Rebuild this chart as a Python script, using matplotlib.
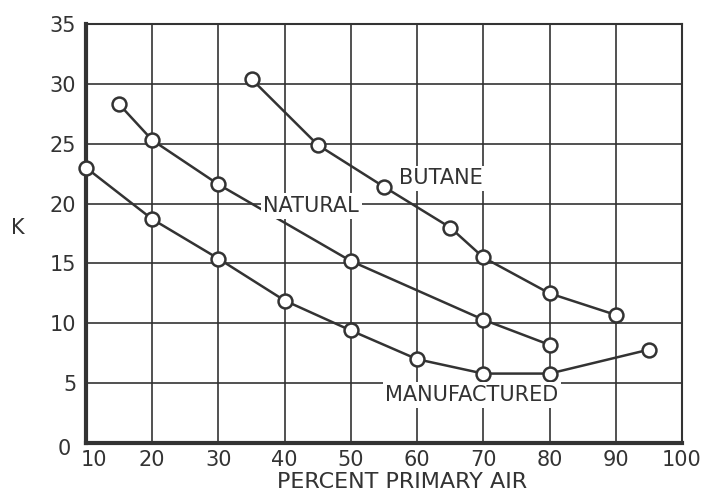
import matplotlib.pyplot as plt
from matplotlib.transforms import ScaledTranslation

plt.rcParams['font.family'] = ['DejaVu Sans']

# data
manuf_x = [10, 20, 30, 40, 50, 60, 70, 80, 95]
manuf_k = [23.0, 18.7, 15.4, 11.9, 9.4, 7.0, 5.8, 5.8, 7.8]

natural_x = [15, 20, 30, 50, 70, 80]
natural_k = [28.3, 25.3, 21.6, 15.2, 10.3, 8.2]

butane_x = [35, 45, 55, 65, 70, 80, 90]
butane_k = [30.4, 24.9, 21.4, 18.0, 15.5, 12.5, 10.7]

xticks = [10, 20, 30, 40, 50, 60, 70, 80, 90, 100]
yticks = [0, 5, 10, 15, 20, 25, 30, 35]

ink = '#333333'

fig = plt.figure(figsize=(7.19, 4.94), dpi=100)
ax = fig.add_axes([0.1196, 0.1032, 0.829, 0.8482])

ax.set_xlim(10, 100)
ax.set_ylim(0, 35)
ax.set_xticks(xticks)
ax.set_yticks(yticks)
ax.grid(True, color=ink, linewidth=1.2)
ax.set_axisbelow(True)
ax.tick_params(length=0, labelsize=15, colors=ink, pad=5)
ax.tick_params(axis='y', pad=7)

# nudge the corner labels apart like the original
ax.get_xticklabels()[0].set_transform(
    ax.get_xticklabels()[0].get_transform() + ScaledTranslation(6/72, 0, fig.dpi_scale_trans))
ax.get_yticklabels()[0].set_transform(
    ax.get_yticklabels()[0].get_transform() + ScaledTranslation(-4/72, -3/72, fig.dpi_scale_trans))

for s in ['left', 'bottom']:
    ax.spines[s].set_linewidth(3)
for s in ['top', 'right']:
    ax.spines[s].set_linewidth(1.5)
for s in ax.spines.values():
    s.set_color(ink)

style = dict(color=ink, linewidth=1.8, marker='o', markersize=10,
             markerfacecolor='white', markeredgecolor=ink,
             markeredgewidth=1.8, clip_on=False, zorder=3)
ax.plot(manuf_x, manuf_k, **style)
ax.plot(natural_x, natural_k, **style)
ax.plot(butane_x, butane_k, **style)

box = dict(facecolor='white', edgecolor='none', pad=2)
lbl = dict(fontsize=15, color=ink, ha='center', va='center', zorder=4, bbox=box)
ax.text(63.6, 22.1, 'BUTANE', **lbl)
ax.text(44.0, 19.8, 'NATURAL', **lbl)
ax.text(68.3, 4.0, 'MANUFACTURED', **lbl)

ax.set_xlabel('PERCENT PRIMARY AIR', fontsize=16, color=ink)
ax.xaxis.set_label_coords(0.53, -0.068)
ax.xaxis.label.set_va('top')
ax.set_ylabel('K', fontsize=15, color=ink, rotation=0)
ax.yaxis.set_label_coords(-0.114, 0.49)

fig.savefig('out.png', dpi=100)
